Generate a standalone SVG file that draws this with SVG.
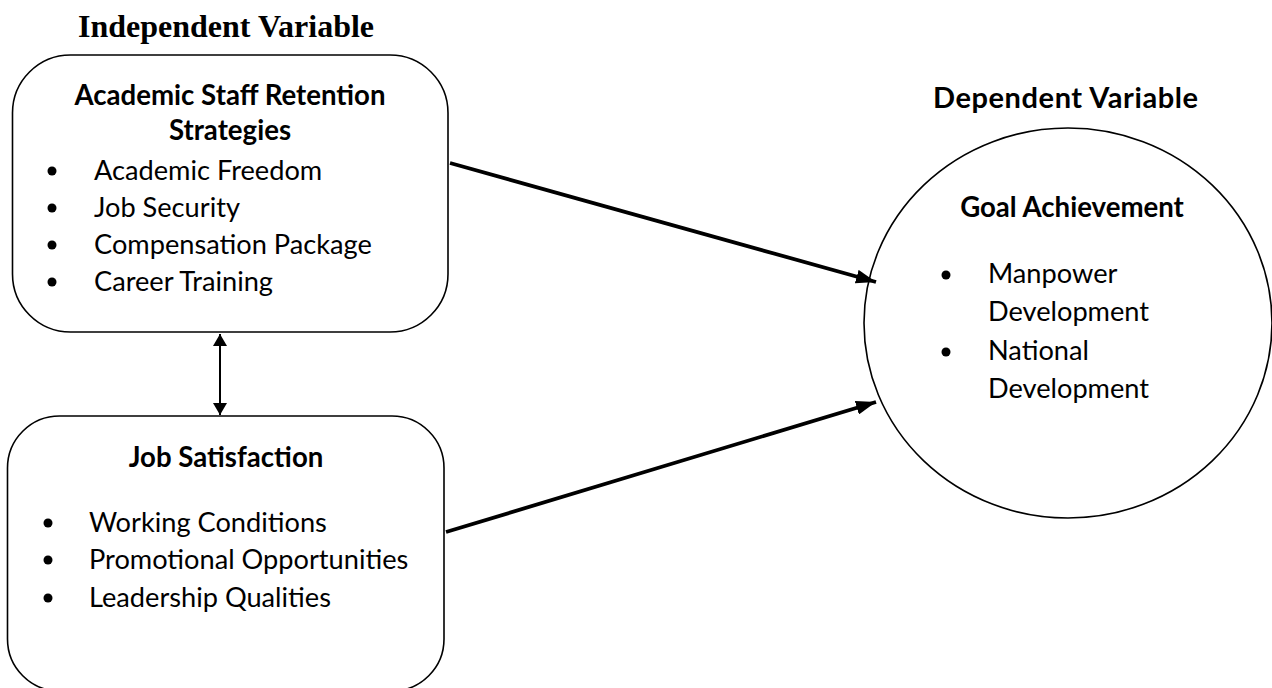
<svg xmlns="http://www.w3.org/2000/svg" width="1272" height="688" viewBox="0 0 1272 688">
<style>
.shape{fill:#fff;stroke:#000;stroke-width:1.6}
.t{font-family:Lato,"Liberation Sans",sans-serif;font-size:27.2px;fill:#000}
.b{font-weight:bold;font-size:27.6px}
.h{font-family:"Liberation Serif","Times New Roman",serif;font-size:32px;font-weight:bold;fill:#000}
.c{text-anchor:middle}
.conn{stroke:#000;fill:none}
</style>
<defs>
<marker id="ah" viewBox="0 0 20 14" refX="20" refY="7" markerWidth="20" markerHeight="14" markerUnits="userSpaceOnUse" orient="auto">
<path d="M0,0 L20,7 L0,14 Z" fill="#000"/>
</marker>
<marker id="ahs" viewBox="0 0 12 14" refX="12" refY="7" markerWidth="12" markerHeight="14" markerUnits="userSpaceOnUse" orient="auto-start-reverse">
<path d="M0,0 L12,7 L0,14 Z" fill="#000"/>
</marker>
</defs>
<text class="h c" x="226" y="37">Independent Variable</text>
<g id="retention">
<rect class="shape" x="12.5" y="55" width="435.5" height="277" rx="58" ry="58"/>
<text class="t b c" x="230" y="105">Academic Staff Retention</text>
<text class="t b c" x="230" y="140">Strategies</text>
<g class="t">
<circle cx="52" cy="171" r="4.5"/><text x="94" y="180">Academic Freedom</text>
<circle cx="52" cy="208" r="4.5"/><text x="94" y="217">Job Security</text>
<circle cx="52" cy="245" r="4.5"/><text x="94" y="254">Compensation Package</text>
<circle cx="52" cy="282" r="4.5"/><text x="94" y="291">Career Training</text>
</g>
</g>
<g id="satisfaction">
<rect class="shape" x="7.5" y="416" width="436.5" height="275" rx="52" ry="52"/>
<text class="t b c" x="226" y="467">Job Satisfaction</text>
<g class="t">
<circle cx="48" cy="523" r="4.5"/><text x="89" y="532">Working Conditions</text>
<circle cx="48" cy="560" r="4.5"/><text x="89" y="569">Promotional Opportunities</text>
<circle cx="48" cy="598" r="4.5"/><text x="89" y="607">Leadership Qualities</text>
</g>
</g>
<text class="t b" x="933" y="108" style="font-size:29px" textLength="265">Dependent Variable</text>
<g id="goal">
<ellipse class="shape" cx="1068" cy="323" rx="204" ry="195"/>
<text class="t b c" x="1072" y="217">Goal Achievement</text>
<g class="t">
<circle cx="946" cy="275" r="4.5"/><text x="988" y="283">Manpower</text>
<text x="988" y="321">Development</text>
<circle cx="946" cy="352" r="4.5"/><text x="988" y="360">National</text>
<text x="988" y="398">Development</text>
</g>
</g>
<g id="connectors">
<line class="conn" x1="450" y1="163" x2="876" y2="282" stroke-width="3.8" marker-end="url(#ah)"/>
<line class="conn" x1="446" y1="532" x2="876" y2="402" stroke-width="3.8" marker-end="url(#ah)"/>
<line class="conn" x1="220" y1="334" x2="220" y2="415" stroke-width="2" marker-start="url(#ahs)" marker-end="url(#ahs)"/>
</g>
</svg>
